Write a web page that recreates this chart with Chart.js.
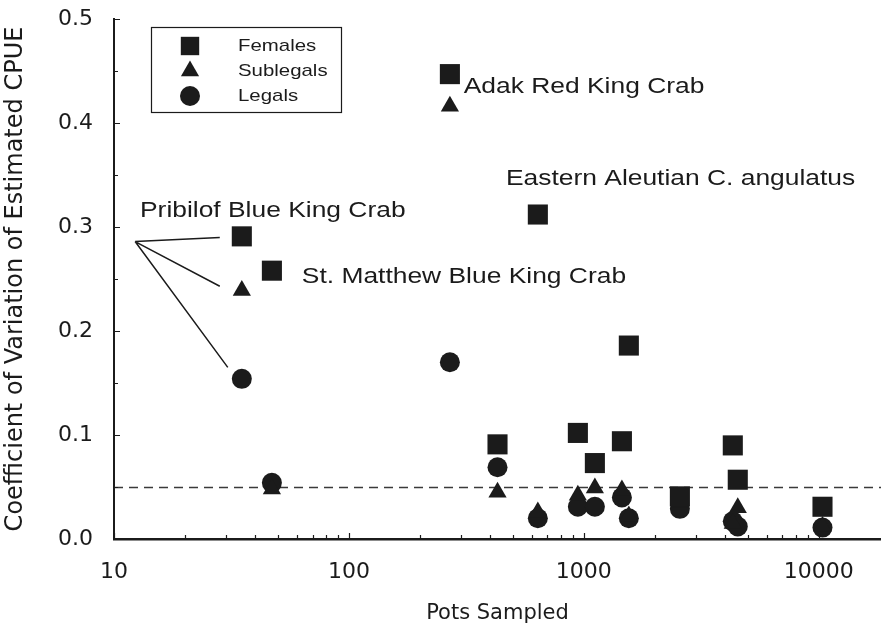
<!DOCTYPE html>
<html>
<head>
<meta charset="utf-8">
<style>
  html, body { margin: 0; padding: 0; background: #ffffff; }
  canvas { display: block; }
</style>
<script src="https://cdn.jsdelivr.net/npm/chart.js@4.4.1/dist/chart.umd.min.js"></script>
</head>
<body>
<canvas id="cv" width="881" height="632"></canvas>
<script>
// Survey effort (pots sampled) and CV of estimated CPUE per size/sex group
const potsSampled = [35, 47, 269, 429, 637, 943, 1114, 1452, 1554, 2563, 4305, 4520, 10370];
const cvFemales   = [0.291, 0.258, 0.447, 0.091, 0.312, 0.102, 0.073, 0.094, 0.186, 0.041, 0.090, 0.057, 0.031];
const cvSublegals = [0.239, 0.048, 0.416, 0.045, 0.026, 0.042, 0.049, 0.047, 0.022, 0.035, 0.015, 0.030, 0.012];
const cvLegals    = [0.154, 0.054, 0.170, 0.069, 0.020, 0.031, 0.031, 0.040, 0.020, 0.029, 0.017, 0.012, 0.011];

const groupNames  = ['Females', 'Sublegals', 'Legals'];
const xTickValues = [10, 100, 1000, 10000];
const yTickValues = [0, 0.1, 0.2, 0.3, 0.4, 0.5];
const targetCV    = 0.05;

// Survey names placed in data units (left edge, baseline)
const siteLabels = [
  { text: 'Pribilof Blue King Crab',        x: 12.9, y: 0.310 },
  { text: 'St. Matthew Blue King Crab',     x: 63,   y: 0.246 },
  { text: 'Adak Red King Crab',             x: 308,  y: 0.429 },
  { text: 'Eastern Aleutian C. angulatus',  x: 466,  y: 0.340 }
];
// Leader lines from the Pribilof name to its three points
const leaderFrom = { x: 12.3, y: 0.286 };
const leaderTo   = [ { x: 28.2, y: 0.290 }, { x: 28.2, y: 0.243 }, { x: 30.5, y: 0.165 } ];

const INK = '#1b1b1b';
const TEXT_FONT = '"Liberation Sans", Arial, sans-serif';
const AXIS_FONT = '"DejaVu Sans", sans-serif';

function points(values) {
  return potsSampled.map((p, i) => ({ x: p, y: values[i] }));
}

// Text slightly widened horizontally, like the printed figure's typeface
function wideText(ctx, text, x, y, sx) {
  ctx.save();
  ctx.translate(x, y);
  ctx.scale(sx, 1);
  ctx.fillText(text, 0, 0);
  ctx.restore();
}

const referenceLine = {
  id: 'referenceLine',
  beforeDatasetsDraw(chart) {
    const { ctx, chartArea: a, scales: { x, y } } = chart;
    const py = Math.round(y.getPixelForValue(targetCV)) + 0.5;
    ctx.save();
    ctx.strokeStyle = '#3a3a3a';
    ctx.lineWidth = 1.6;
    ctx.setLineDash([9, 6]);
    ctx.beginPath();
    ctx.moveTo(a.left, py);
    ctx.lineTo(a.right, py);
    ctx.stroke();
    ctx.setLineDash([]);
    // leader lines
    ctx.strokeStyle = INK;
    ctx.lineWidth = 1.5;
    ctx.beginPath();
    const fx = x.getPixelForValue(leaderFrom.x), fy = y.getPixelForValue(leaderFrom.y);
    leaderTo.forEach(t => {
      ctx.moveTo(fx, fy);
      ctx.lineTo(x.getPixelForValue(t.x), y.getPixelForValue(t.y));
    });
    ctx.stroke();
    ctx.restore();
  }
};

const axisTicks = {
  id: 'axisTicks',
  afterDraw(chart) {
    const { ctx, chartArea: a, scales: { x, y } } = chart;
    ctx.save();
    ctx.strokeStyle = INK;
    ctx.lineWidth = 1.2;
    ctx.beginPath();
    for (let d = 10; d <= x.max; d *= 10) {
      for (let m = 1; m < 10; m++) {
        const v = m * d;
        if (v < x.min || v > x.max) continue;
        const px = Math.round(x.getPixelForValue(v)) + 0.5;
        ctx.moveTo(px, a.bottom);
        ctx.lineTo(px, a.bottom - (m === 1 ? 6 : 4));
      }
    }
    for (let k = 0; k <= 10; k++) {
      const py = Math.round(y.getPixelForValue(k * 0.05)) + 0.5;
      ctx.moveTo(a.left, py);
      ctx.lineTo(a.left + (k % 2 ? 4 : 6), py);
    }
    ctx.stroke();
    ctx.restore();
  }
};

const annotations = {
  id: 'annotations',
  afterDraw(chart) {
    const { ctx, scales: { x, y } } = chart;
    ctx.save();
    ctx.fillStyle = INK;
    ctx.font = '22px ' + TEXT_FONT;
    ctx.textAlign = 'left';
    ctx.textBaseline = 'alphabetic';
    siteLabels.forEach(l => {
      wideText(ctx, l.text, x.getPixelForValue(l.x), y.getPixelForValue(l.y), 1.2);
    });

    // legend box
    ctx.strokeStyle = INK;
    ctx.lineWidth = 1.2;
    ctx.strokeRect(151.5, 27.5, 190, 85);
    const rowY = [46, 71, 96];
    const legendRadius = { rect: 13, triangle: 10.5, circle: 10 };
    ctx.font = '17px ' + TEXT_FONT;
    ctx.textBaseline = 'middle';
    chart.data.datasets.forEach((ds, i) => {
      ctx.fillStyle = INK;
      Chart.helpers.drawPoint(ctx, {
        pointStyle: ds.pointStyle, radius: legendRadius[ds.pointStyle],
        rotation: 0, borderWidth: 0
      }, 190, rowY[i]);
      ctx.fillStyle = INK;
      wideText(ctx, ds.label, 238, rowY[i], 1.2);
    });
    ctx.restore();
  }
};

const marker = { backgroundColor: INK, borderColor: INK, borderWidth: 0, showLine: false };

new Chart(document.getElementById('cv'), {
  type: 'scatter',
  data: {
    datasets: [
      Object.assign({ label: groupNames[0], data: points(cvFemales),   pointStyle: 'rect',     pointRadius: 14.2, pointHoverRadius: 14.2 }, marker),
      Object.assign({ label: groupNames[1], data: points(cvSublegals), pointStyle: 'triangle', pointRadius: 10.5, pointHoverRadius: 10.5 }, marker),
      Object.assign({ label: groupNames[2], data: points(cvLegals),    pointStyle: 'circle',   pointRadius: 10,   pointHoverRadius: 10 }, marker)
    ]
  },
  options: {
    responsive: false,
    animation: false,
    devicePixelRatio: 1,
    layout: { autoPadding: false, padding: { top: 19, right: 0, left: 0, bottom: 0 } },
    plugins: { legend: { display: false }, tooltip: { enabled: false } },
    scales: {
      x: {
        type: 'logarithmic',
        position: 'bottom',
        min: 10,
        max: 18400,
        afterBuildTicks: s => { s.ticks = xTickValues.map(v => ({ value: v })); },
        afterFit: s => { s.height = 93; s.paddingLeft = 0; s.paddingRight = 0; },
        grid: { display: false },
        border: { display: true, color: INK, width: 2.5 },
        ticks: {
          callback: v => String(v),
          autoSkip: false, maxRotation: 0,
          color: INK, padding: 12,
          font: { family: AXIS_FONT, size: 22 }
        },
        title: {
          display: true, text: 'Pots Sampled', color: INK,
          font: { family: AXIS_FONT, size: 21 },
          padding: { top: 0, bottom: 6 }
        }
      },
      y: {
        min: 0,
        max: 0.5,
        afterBuildTicks: s => { s.ticks = yTickValues.map(v => ({ value: v })); },
        afterFit: s => { s.width = 114; s.paddingTop = 0; s.paddingBottom = 0; },
        grid: { display: false },
        border: { display: true, color: INK, width: 2 },
        ticks: {
          callback: v => v.toFixed(1),
          color: INK, padding: 13,
          font: { family: AXIS_FONT, size: 22 }
        },
        title: {
          display: true, text: 'Coefficient of Variation of Estimated CPUE', color: INK,
          font: { family: AXIS_FONT, size: 24 },
          padding: { top: 1, bottom: 0 }
        }
      }
    }
  },
  plugins: [referenceLine, axisTicks, annotations]
});
</script>
</body>
</html>
